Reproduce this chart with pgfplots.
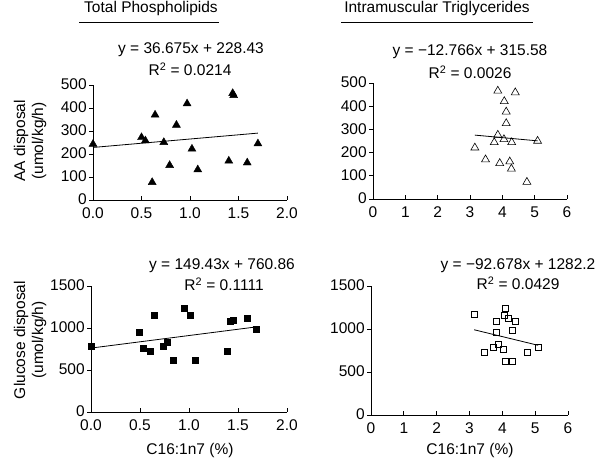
\documentclass[border=0pt]{standalone}
\usepackage{fontspec}
\setmainfont{Liberation Sans}
\usepackage{pgfplots}
\pgfplotsset{compat=1.18}
\begin{document}
\fontsize{15.5pt}{18pt}\selectfont
\begin{tikzpicture}[x=1pt,y=1pt]
\useasboundingbox (0,0) rectangle (600,465);
\pgfplotsset{
  myax/.style={scale only axis, anchor=south west,
    axis x line*=bottom, axis y line*=left,
    axis line style={-, line width=0.8pt},
    tick align=inside, major tick length=4pt,
    every tick/.style={black, line width=0.7pt},
    every y tick/.append style={xshift=-4pt},
    /pgf/number format/assume math mode=true,
    /pgf/number format/set thousands separator={},
    ticklabel style={font=\fontsize{15.5pt}{18pt}\selectfont},
    xticklabel style={yshift=-2.5pt},
    yticklabel style={xshift=-1pt, yshift=0.5pt},
    clip=false},
  trifill/.style={only marks, mark=triangle*, mark size=4.6pt, black},
  triopen/.style={only marks, mark=triangle, mark size=4.6pt, black, mark options={line width=0.6pt}},
  sqfill/.style={only marks, mark=square*, mark size=3pt, black},
  sqopen/.style={only marks, mark=square, mark size=3pt, black, mark options={line width=0.6pt}},
  regline/.style={black, line width=0.8pt, no marks}
}
% Top left
\begin{axis}[myax, at={(93pt,265pt)}, width=194pt, height=115pt,
  xmin=0, xmax=2, ymin=0, ymax=500,
  xtick={0,0.5,1,1.5,2}, ytick={0,100,200,300,400,500},
  xticklabel style={/pgf/number format/.cd, fixed, fixed zerofill, precision=1}]
\addplot[trifill] coordinates {(0,243) (0.50,272) (0.54,258) (0.61,77) (0.64,370) (0.73,251) (0.79,151) (0.86,326) (0.97,419) (1.02,222) (1.08,132) (1.40,170) (1.44,464) (1.45,455) (1.59,162) (1.70,245)};
\addplot[regline] coordinates {(0,228.43) (1.7,290.78)};
\end{axis}
% Top right
\begin{axis}[myax, at={(373pt,266pt)}, width=194pt, height=116pt,
  xmin=0, xmax=6, ymin=0, ymax=500,
  xtick={0,1,2,3,4,5,6}, ytick={0,100,200,300,400,500}]
\addplot[triopen] coordinates {(3.86,466)(4.40,459)(4.06,421)(4.12,376)(4.12,326)(3.86,276)(4.05,257)(3.75,244)(4.29,244)(5.09,250)(3.15,221)(3.48,170)(3.92,154)(4.23,161)(4.28,130)(4.76,73)};
\addplot[regline] coordinates {(3.15,275.37) (5.09,250.60)};
\end{axis}
% Bottom left
\begin{axis}[myax, at={(91pt,53pt)}, width=196pt, height=126pt,
  xmin=0, xmax=2, ymin=0, ymax=1500,
  xtick={0,0.5,1,1.5,2}, ytick={0,500,1000,1500},
  xticklabel style={/pgf/number format/.cd, fixed, fixed zerofill, precision=1}]
\addplot[sqfill] coordinates {(0,786)(0.49,948)(0.53,762)(0.60,726)(0.64,1155)(0.74,782)(0.78,825)(0.84,619)(0.95,1238)(1.01,1155)(1.06,619)(1.39,726)(1.42,1075)(1.45,1095)(1.59,1115)(1.69,988)};
\addplot[regline] coordinates {(0,760.86) (1.69,1013.40)};
\end{axis}
% Bottom right
\begin{axis}[myax, at={(371pt,50pt)}, width=197pt, height=129pt,
  xmin=0, xmax=6, ymin=0, ymax=1500,
  xtick={0,1,2,3,4,5,6}, ytick={0,500,1000,1500}]
\addplot[sqopen] coordinates {(3.14,1167)(4.09,1245)(4.07,1163)(4.19,1125)(3.82,1086)(4.41,1086)(3.83,962)(4.29,986)(3.88,827)(3.71,785)(4.03,765)(3.44,727)(4.77,727)(5.09,785)(4.08,626)(4.29,626)};
\addplot[regline] coordinates {(3.14,991.19) (5.09,810.47)};
\end{axis}
% Titles
\node at (151,456.5) {Total Phospholipids};
\draw[line width=0.9pt] (79,443) -- (219,443);
\node at (437,456.5) {Intramuscular Triglycerides};
\draw[line width=0.9pt] (341,443) -- (533,443);
% Equations
\node at (191,415) {y = 36.675x + 228.43};
\node at (190,396) {R\textsuperscript{2} = 0.0214};
\node at (470,413) {y = −12.766x + 315.58};
\node at (470,393) {R\textsuperscript{2} = 0.0026};
\node at (222,199) {y = 149.43x + 760.86};
\node at (224,181) {R\textsuperscript{2} = 0.1111};
\node at (518,199) {y = −92.678x + 1282.2};
\node at (518,182) {R\textsuperscript{2} = 0.0429};
% Y labels
\node[rotate=90] at (21,324) {AA disposal};
\node[rotate=90] at (39,324) {(umol/kg/h)};
\node[rotate=90] at (21,125) {Glucose disposal};
\node[rotate=90] at (39,125) {(umol/kg/h)};
% X labels
\node at (190,15) {C16:1n7 (\%)};
\node at (470,15) {C16:1n7 (\%)};
\end{tikzpicture}
\end{document}
